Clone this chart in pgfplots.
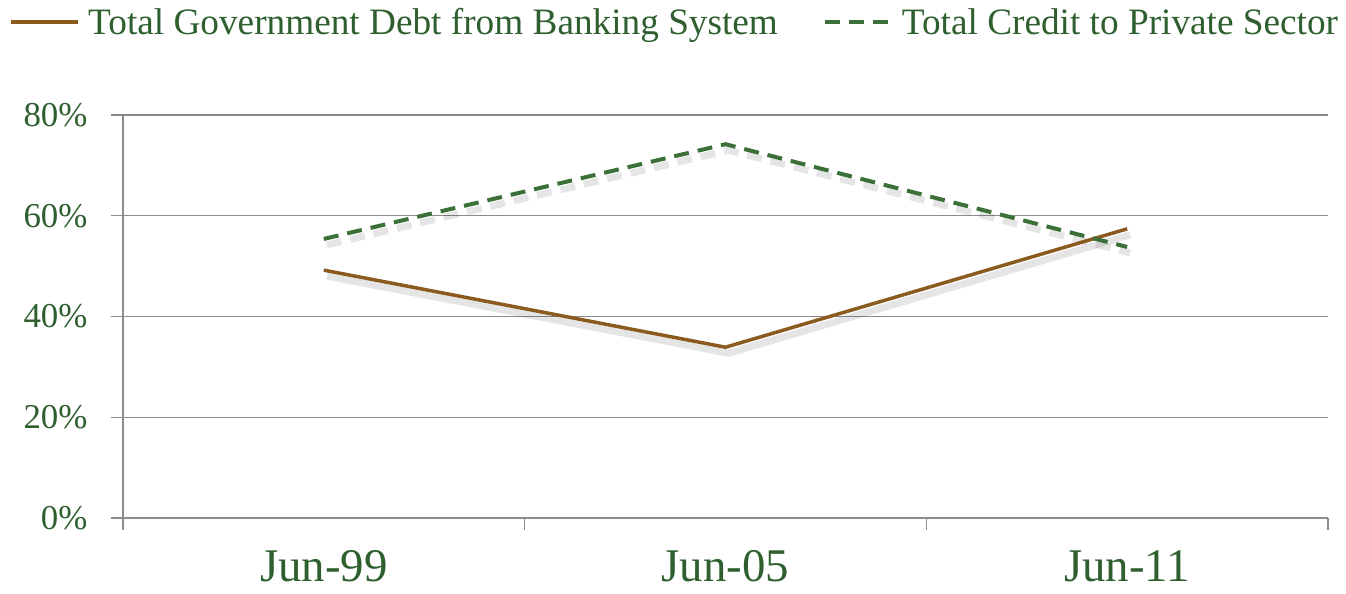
\documentclass[border=0pt]{standalone}
\usepackage{pgfplots}
\pgfplotsset{compat=1.18}
\usetikzlibrary{calc}
\usepackage{fontspec}
\setmainfont{Liberation Serif}
\definecolor{txtgreen}{HTML}{2F5F2F}
\definecolor{brownline}{HTML}{8B5A1E}
\definecolor{greenline}{HTML}{3B7038}
\definecolor{gridgray}{HTML}{8C8C8C}
\begin{document}
\begin{tikzpicture}
\begin{axis}[
  scale only axis,
  width=1205bp, height=403bp,
  xmin=0, xmax=3, ymin=0, ymax=80,
  axis x line*=bottom, axis y line*=left,
  axis line style={draw=gridgray, line width=1.3bp},
  xtick={0,1,2,3}, xticklabels={},
  extra x ticks={0.5,1.5,2.5},
  extra x tick labels={Jun-99,Jun-05,Jun-11},
  extra x tick style={tick style={draw=none}},
  ytick={0,20,40,60,80},
  yticklabels={0\%,20\%,40\%,60\%,80\%},
  ymajorgrids,
  grid style={draw=gridgray, line width=1.3bp},
  tick style={draw=gridgray, line width=1.3bp},
  tick align=outside,
  major tick length=12bp,
  xticklabel style={font=\fontsize{47}{54}\selectfont, text=txtgreen, yshift=-17bp},
  yticklabel style={font=\fontsize{35}{40}\selectfont, text=txtgreen, xshift=-20bp},
  legend columns=2,
  legend style={draw=none, fill=none, at={(0.458,1.2308)}, anchor=center,
    font=\fontsize{37.4}{42}\selectfont, text=txtgreen,
    /tikz/every odd column/.append style={column sep=6bp},
    /tikz/every even column/.append style={column sep=43bp}},
  legend image code/.code={\draw[#1] (0bp,0bp) -- (67bp,0bp);},
  clip=false,
]
% shadows
\addplot[forget plot, draw=black, opacity=0.10, line width=7bp, xshift=3bp, yshift=-6bp] coordinates {(0.5,49.2) (1.5,33.9) (2.5,57.4)};
\addplot[forget plot, draw=black, opacity=0.10, line width=7bp, xshift=3bp, yshift=-6bp, dash pattern=on 15bp off 9bp] coordinates {(0.5,55.4) (1.5,74.2) (2.5,53.8)};
\addplot[draw=brownline, line width=3.5bp] coordinates {(0.5,49.2) (1.5,33.9) (2.5,57.4)};
\addlegendentry{Total Government Debt from Banking System}
\addplot[draw=greenline, line width=4bp, dash pattern=on 15bp off 9bp] coordinates {(0.5,55.4) (1.5,74.2) (2.5,53.8)};
\addlegendentry{Total Credit to Private Sector}
\end{axis}
\useasboundingbox ($(current axis.south west)+(-123bp,-76bp)$) rectangle ($(current axis.north east)+(18bp,115bp)$);
\end{tikzpicture}
\end{document}
